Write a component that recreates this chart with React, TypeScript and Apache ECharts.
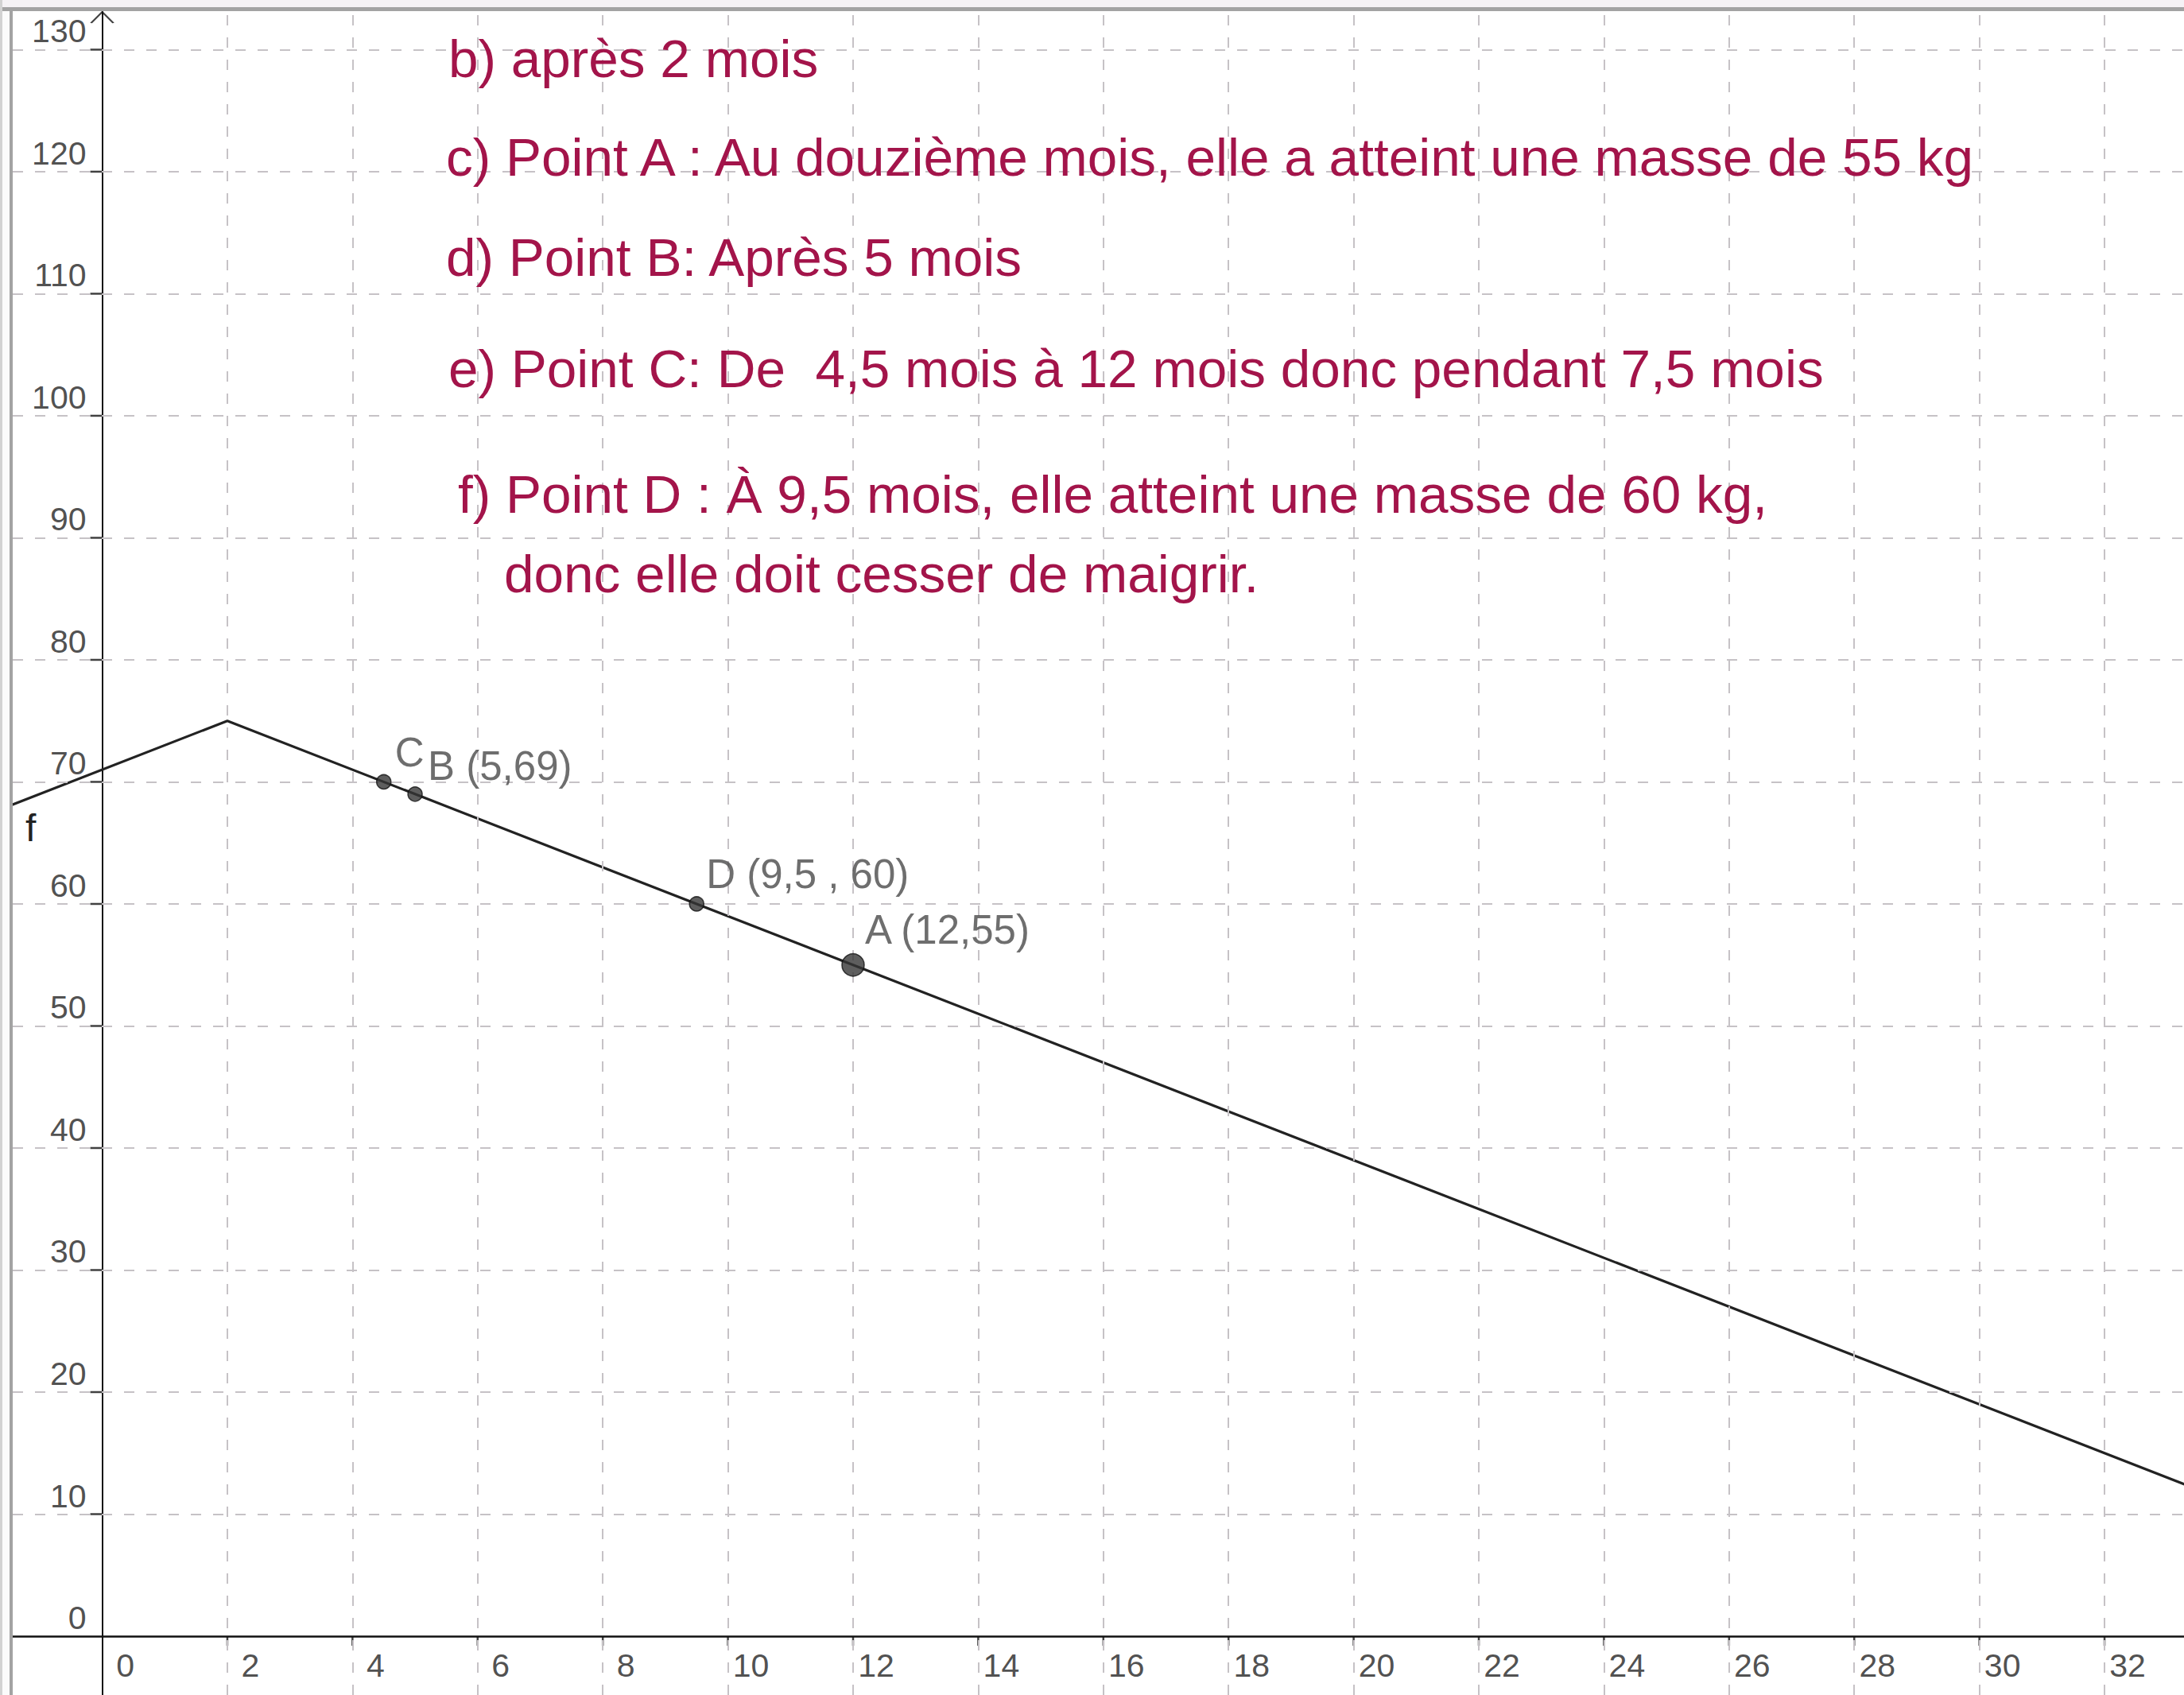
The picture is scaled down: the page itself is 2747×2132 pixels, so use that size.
import React, { useEffect, useRef } from "react";
import * as echarts from "echarts";

// Function f (piecewise linear), vertices
const fX = [-2, 2, 34];
const fY = [67, 75, 11];

// Named points
const pointNames = ["C", "B", "D", "A"];
const pointX = [4.5, 5, 9.5, 12];
const pointY = [70, 69, 60, 55];
const pointLabels = ["C", "B (5,69)", "D (9,5 , 60)", "A (12,55)"];

// Axis ticks
const xTickValues = [0, 2, 4, 6, 8, 10, 12, 14, 16, 18, 20, 22, 24, 26, 28, 30, 32];
const xTickLabels = ["0", "2", "4", "6", "8", "10", "12", "14", "16", "18", "20", "22", "24", "26", "28", "30", "32"];
const yTickValues = [0, 10, 20, 30, 40, 50, 60, 70, 80, 90, 100, 110, 120, 130];
const yTickLabels = ["0", "10", "20", "30", "40", "50", "60", "70", "80", "90", "100", "110", "120", "130"];

// Answer texts
const answerLines = [
  "b) après 2 mois",
  "c) Point A : Au douzième mois, elle a atteint une masse de 55 kg",
  "d) Point B: Après 5 mois",
  "e) Point C: De  4,5 mois à 12 mois donc pendant 7,5 mois",
  "f) Point D : À 9,5 mois, elle atteint une masse de 60 kg,",
  "donc elle doit cesser de maigrir.",
];

// View window
const X_MIN = -1.43;
const X_MAX = 33.27;
const Y_MIN = -4.82;
const Y_MAX = 133.09;

// Styles / positions (not data)
const FONT = '"Liberation Sans", Arial, Helvetica, sans-serif';
const answerPos: [number, number][] = [
  [564, 73],
  [561, 197],
  [561, 323],
  [564, 463],
  [576, 621],
  [634, 721],
];
const pointStyle: Record<string, { size: number; offset: [number, number] }> = {
  C: { size: 18, offset: [14, -37] },
  B: { size: 18, offset: [16, -35] },
  D: { size: 18, offset: [12, -37.5] },
  A: { size: 28, offset: [15, -44] },
};

export default function App() {
  const ref = useRef<HTMLDivElement>(null);

  useEffect(() => {
    if (!ref.current) return;
    const chart = echarts.init(ref.current, undefined, { renderer: "svg" });

    const gridColor = "#c6c2c6";
    const axisColor = "#111111";

    const option: any = {
      animation: false,
      backgroundColor: "#ffffff",
      textStyle: { fontFamily: FONT },
      grid: { left: 16, top: 15, width: 2731, height: 2117, containLabel: false },
      xAxis: {
        type: "value",
        min: X_MIN,
        max: X_MAX,
        axisLine: { show: true, onZero: true, lineStyle: { color: axisColor, width: 2.5 } },
        axisTick: { show: false },
        axisLabel: { show: false },
        splitLine: { show: false },
      },
      yAxis: {
        type: "value",
        min: Y_MIN,
        max: Y_MAX,
        axisLine: { show: true, onZero: true, lineStyle: { color: axisColor, width: 2 } },
        axisTick: { show: false },
        axisLabel: { show: false },
        splitLine: { show: false },
      },
      series: [
        {
          name: "grid",
          type: "line",
          data: [],
          silent: true,
          z: 1,
          markLine: {
            silent: true,
            symbol: ["none", "none"],
            label: { show: false },
            lineStyle: { type: [13, 15], color: gridColor, width: 2 },
            data: [
              ...xTickValues.filter((v) => v !== 0).map((v) => ({ xAxis: v })),
              ...yTickValues.filter((v) => v !== 0).map((v) => ({ yAxis: v })),
            ],
          },
        },
        {
          name: "xticks",
          type: "scatter",
          silent: true,
          clip: false,
          z: 3,
          symbol: "rect",
          symbolSize: [2.5, 12],
          symbolOffset: [0, 6],
          itemStyle: { color: axisColor },
          data: xTickValues.filter((v) => v !== 0).map((v) => [v, 0]),
        },
        {
          name: "yticks",
          type: "scatter",
          silent: true,
          clip: false,
          z: 3,
          symbol: "rect",
          symbolSize: [15, 2.5],
          symbolOffset: [-7.5, 0],
          itemStyle: { color: axisColor },
          data: yTickValues.filter((v) => v !== 0).map((v) => [0, v]),
        },
        {
          name: "yarrow",
          type: "scatter",
          silent: true,
          clip: false,
          z: 3,
          symbol: "path://M0,14L14,0L28,14",
          symbolSize: [28, 14],
          symbolOffset: [0, 7],
          itemStyle: { color: "transparent", borderColor: axisColor, borderWidth: 2 },
          data: [[0, Y_MAX]],
        },
        {
          name: "xlabels",
          type: "scatter",
          silent: true,
          clip: false,
          z: 3,
          symbolSize: 1,
          itemStyle: { color: "transparent" },
          label: {
            show: true,
            position: "inside",
            align: "center",
            verticalAlign: "top",
            offset: [29, 16],
            fontSize: 41,
            fontFamily: FONT,
            color: "#222222",
            formatter: (p: any) => xTickLabels[p.dataIndex],
          },
          data: xTickValues.map((v) => [v, 0]),
        },
        {
          name: "ylabels",
          type: "scatter",
          silent: true,
          clip: false,
          z: 3,
          symbolSize: 1,
          itemStyle: { color: "transparent" },
          label: {
            show: true,
            position: "inside",
            align: "right",
            verticalAlign: "middle",
            offset: [-20, -23],
            fontSize: 41,
            fontFamily: FONT,
            color: "#222222",
            formatter: (p: any) => yTickLabels[p.dataIndex],
          },
          data: yTickValues.map((v) => [0, v]),
        },
        {
          name: "f",
          type: "line",
          silent: true,
          z: 4,
          showSymbol: false,
          clip: true,
          lineStyle: { color: "#222222", width: 3.2 },
          data: fX.map((x, i) => [x, fY[i]]),
        },
        {
          name: "points",
          type: "scatter",
          silent: true,
          z: 5,
          itemStyle: { color: "#363636", borderColor: "#111111", borderWidth: 1.5 },
          data: pointNames.map((n, i) => ({
            value: [pointX[i], pointY[i]],
            symbolSize: pointStyle[n].size,
            label: {
              show: true,
              position: "inside",
              align: "left",
              verticalAlign: "middle",
              offset: pointStyle[n].offset,
              fontSize: 51,
              fontFamily: FONT,
              color: "#4a4a4a",
              formatter: pointLabels[i],
            },
          })),
        },
      ],
      graphic: [
        // window frame
        { type: "rect", z: 100, silent: true, shape: { x: 0, y: 0, width: 2747, height: 9 }, style: { fill: "#f5f2f5" } },
        { type: "rect", z: 100, silent: true, shape: { x: 0, y: 9, width: 2747, height: 5 }, style: { fill: "#a3a3a3" } },
        { type: "rect", z: 100, silent: true, shape: { x: 0, y: 0, width: 3, height: 2132 }, style: { fill: "#d2d2d2" } },
        { type: "rect", z: 100, silent: true, shape: { x: 3, y: 14, width: 9, height: 2118 }, style: { fill: "#fbfbfb" } },
        { type: "rect", z: 100, silent: true, shape: { x: 12, y: 9, width: 4, height: 2123 }, style: { fill: "#a3a3a3" } },
        // function name
        {
          type: "text",
          z: 50,
          silent: true,
          x: 32,
          y: 1041,
          style: {
            text: "f",
            font: `48px ${FONT}`,
            fill: "#222222",
            align: "left",
            verticalAlign: "middle",
            textAlign: "left",
            textVerticalAlign: "middle",
          },
        },
        ...answerLines.map((t, i) => ({
          type: "text",
          z: 50,
          silent: true,
          x: answerPos[i][0],
          y: answerPos[i][1],
          style: {
            text: t,
            font: `67.5px ${FONT}`,
            fill: "#a3144a",
            align: "left",
            verticalAlign: "middle",
            textAlign: "left",
            textVerticalAlign: "middle",
          },
        })),
      ],
    };

    chart.setOption(option);
    return () => chart.dispose();
  }, []);

  return (
    <div
      ref={ref}
      style={{ position: "absolute", left: 0, top: 0, width: 2747, height: 2132, background: "#fff" }}
    />
  );
}
